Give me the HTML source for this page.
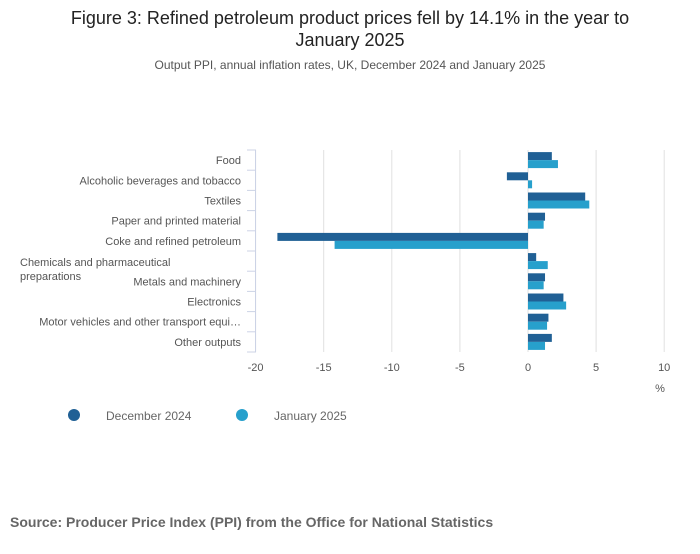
<!DOCTYPE html>
<html><head><meta charset="utf-8"><style>
body{margin:0;background:#fff;font-family:"Liberation Sans",sans-serif;}
svg text{font-family:"Liberation Sans",sans-serif;}
</style></head><body>
<svg width="700" height="549" viewBox="0 0 700 549">
<text x="350" y="24" text-anchor="middle" font-size="18" fill="#222">Figure 3: Refined petroleum product prices fell by 14.1% in the year to</text>
<text x="350" y="46" text-anchor="middle" font-size="18" fill="#222">January 2025</text>
<text x="350" y="69" text-anchor="middle" font-size="12" fill="#555">Output PPI, annual inflation rates, UK, December 2024 and January 2025</text>
<g id="plot"></g>
<text x="660" y="392" text-anchor="middle" font-size="11" fill="#555">%</text>
<circle cx="74" cy="415" r="6" fill="#206095"/>
<text x="106" y="420" font-size="12" fill="#666">December 2024</text>
<circle cx="242" cy="415" r="6" fill="#27a0cc"/>
<text x="274" y="420" font-size="12" fill="#666">January 2025</text>
<text x="10" y="527" font-size="14" font-weight="bold" fill="#666">Source: Producer Price Index (PPI) from the Office for National Statistics</text>
</svg>
<script>
const categories=["Food","Alcoholic beverages and tobacco","Textiles","Paper and printed material","Coke and refined petroleum","Chemicals and pharmaceutical preparations","Metals and machinery","Electronics","Motor vehicles and other transport equi…","Other outputs"];
const dec2024=[1.75,-1.55,4.2,1.25,-18.4,0.6,1.25,2.6,1.5,1.75];
const jan2025=[2.2,0.3,4.5,1.15,-14.2,1.45,1.15,2.8,1.4,1.25];
const xTicks=[-20,-15,-10,-5,0,5,10];
const NS="http://www.w3.org/2000/svg";
const g=document.getElementById('plot');
const x=v=>528+v*13.62;
const plotTop=150,pitch=20.2,plotBot=plotTop+pitch*categories.length;
function mk(t,a){const e=document.createElementNS(NS,t);for(const k in a)e.setAttribute(k,a[k]);g.appendChild(e);return e;}
xTicks.forEach(t=>{
 const l=mk('line',{x1:x(t),x2:x(t),y1:plotTop,y2:plotBot,stroke:'#e0e0e0','stroke-width':1});
 
 
 const tx=mk('text',{x:x(t),y:plotBot+19,'text-anchor':'middle','font-size':11,fill:'#555'});
 tx.textContent=t;
 
 
});
const ax=mk('line',{x1:255.5,x2:255.5,y1:plotTop,y2:plotBot,stroke:'#ccd3e6','stroke-width':1});


for(let i=0;i<=categories.length;i++){
 const tk=mk('line',{x1:247,x2:256,y1:plotTop+i*pitch,y2:plotTop+i*pitch,stroke:'#ccd3e6','stroke-width':1});
 
 
}
categories.forEach((c,i)=>{
 const cy=plotTop+i*pitch+pitch/2;
 if(c.startsWith("Chemicals")){
  const t1=mk('text',{x:20,y:cy+5,'font-size':11,fill:'#555'});t1.textContent="Chemicals and pharmaceutical";
  
  
  const t2=mk('text',{x:20,y:cy+19,'font-size':11,fill:'#555'});t2.textContent="preparations";
  
  
 } else {
  const t=mk('text',{x:241,y:cy+4,'text-anchor':'end','font-size':11,fill:'#555'});t.textContent=c;
  
  
 }
 const d=dec2024[i],j=jan2025[i];
 const b1=mk('rect',{x:Math.min(x(0),x(d)),y:cy-8,width:Math.abs(x(d)-x(0)),height:8,fill:'#206095'});
 
 
 const b2=mk('rect',{x:Math.min(x(0),x(j)),y:cy,width:Math.abs(x(j)-x(0)),height:8,fill:'#27a0cc'});
 
 
});
</script>
</body></html>
